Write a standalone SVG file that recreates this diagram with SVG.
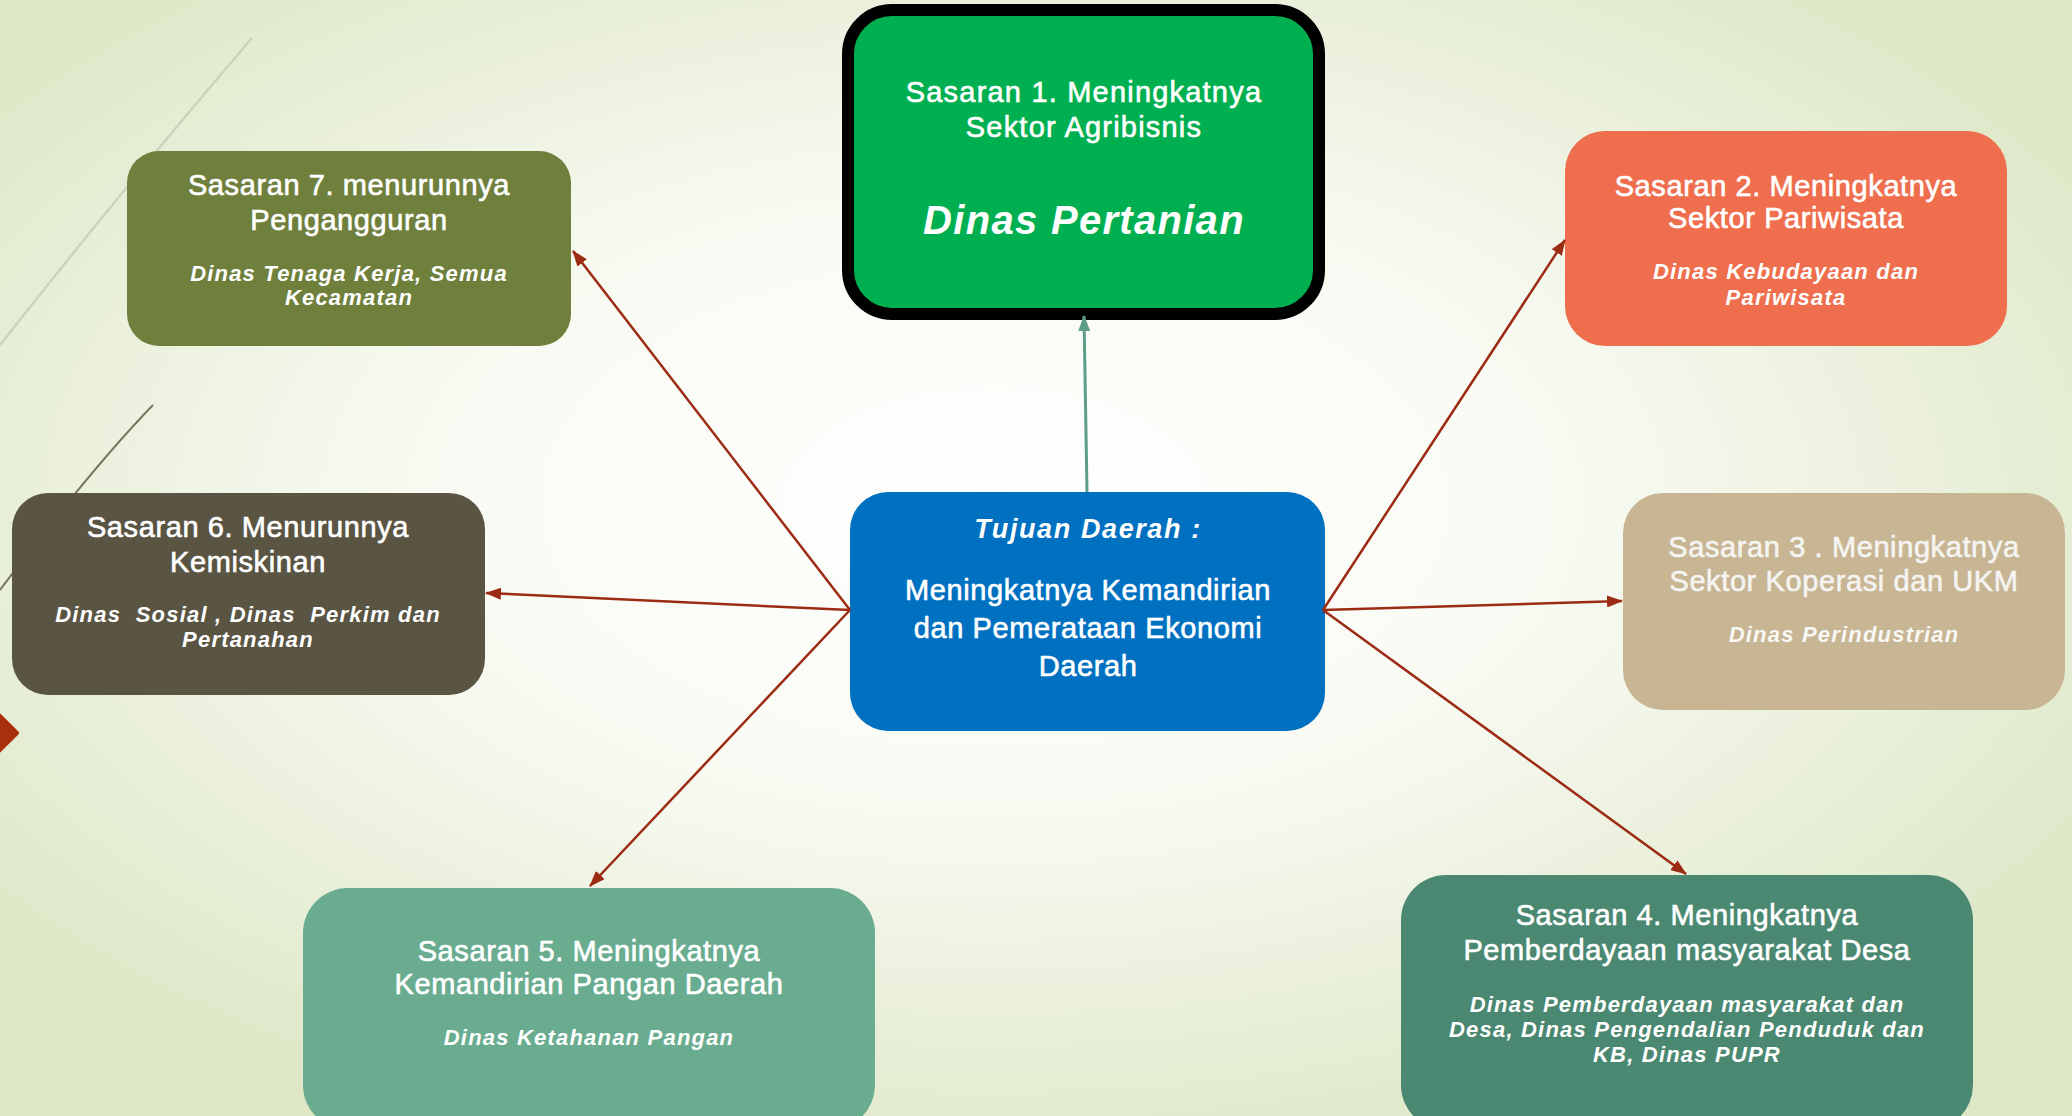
<svg xmlns="http://www.w3.org/2000/svg" width="2072" height="1116" viewBox="0 0 2072 1116">
<defs>
<radialGradient id="bg" cx="48%" cy="45%" r="62%">
<stop offset="0" stop-color="#FFFFFF"/>
<stop offset="0.45" stop-color="#F8FAF2"/>
<stop offset="1" stop-color="#DDE7C6"/>
</radialGradient>
<marker id="ar" markerUnits="userSpaceOnUse" viewBox="0 0 16 12" refX="15" refY="6" markerWidth="16" markerHeight="12" orient="auto">
<path d="M0,0 L16,6 L0,12 z" fill="#9C2B13"/>
</marker>
<marker id="ag" markerUnits="userSpaceOnUse" viewBox="0 0 16 12" refX="15" refY="6" markerWidth="16" markerHeight="12" orient="auto">
<path d="M0,0 L16,6 L0,12 z" fill="#5E9E88"/>
</marker>
<style>
.t{font-family:"Liberation Sans",Arial,sans-serif;font-size:29px;fill:#FFFFFF;stroke:#FFFFFF;stroke-width:0.6px;text-anchor:middle;letter-spacing:0.6px}
.s{font-family:"Liberation Sans",Arial,sans-serif;font-size:22px;font-weight:bold;font-style:italic;fill:#FFFFFF;text-anchor:middle;letter-spacing:1.2px}
.c{stroke:#9C2B13;stroke-width:2.5;fill:none;marker-end:url(#ar)}
</style>
</defs>
<rect x="0" y="0" width="2072" height="1116" fill="url(#bg)"/>
<g id="decor">
<path d="M252,38 Q130,180 0,345" stroke="#CBD3BC" stroke-width="2.5" fill="none"/>
<path d="M153,405 Q90,470 0,590" stroke="#78765E" stroke-width="2" fill="none"/>
<polygon points="17,733 -4,712 -25,733 -4,754" fill="#A8300F" stroke="#A8300F" stroke-width="4" stroke-linejoin="round"/>
</g>
<g id="node-sasaran1">
<rect x="848" y="10" width="471" height="304" rx="44" fill="#00B050" stroke="#000000" stroke-width="12"/>
<text class="t" x="1084" y="102" style="letter-spacing:1.2px">Sasaran 1. Meningkatnya</text>
<text class="t" x="1084" y="137" style="letter-spacing:1.2px">Sektor Agribisnis</text>
<text class="s" x="1084" y="234" style="font-size:40px;letter-spacing:1.3px">Dinas Pertanian</text>
</g>
<g id="node-tujuan">
<rect x="850" y="492" width="475" height="239" rx="38" fill="#0070C0"/>
<text class="s" x="1088" y="538" style="font-size:27px;letter-spacing:1.6px">Tujuan Daerah :</text>
<text class="t" x="1088" y="600" style="font-size:29px;letter-spacing:0.6px">Meningkatnya Kemandirian</text>
<text class="t" x="1088" y="638" style="font-size:29px;letter-spacing:0.6px">dan Pemerataan Ekonomi</text>
<text class="t" x="1088" y="676" style="font-size:29px;letter-spacing:0.6px">Daerah</text>
</g>
<g id="node-sasaran7">
<rect x="127" y="151" width="444" height="195" rx="32" fill="#6F7F3C"/>
<text class="t" x="349" y="195">Sasaran 7. menurunnya</text>
<text class="t" x="349" y="230">Pengangguran</text>
<text class="s" x="349" y="281">Dinas Tenaga Kerja, Semua</text>
<text class="s" x="349" y="305">Kecamatan</text>
</g>
<g id="node-sasaran2">
<rect x="1565" y="131" width="442" height="215" rx="40" fill="#EE6E4E"/>
<text class="t" x="1786" y="196">Sasaran 2. Meningkatnya</text>
<text class="t" x="1786" y="228">Sektor Pariwisata</text>
<text class="s" x="1786" y="279">Dinas Kebudayaan dan</text>
<text class="s" x="1786" y="305">Pariwisata</text>
</g>
<g id="node-sasaran6">
<rect x="12" y="493" width="473" height="202" rx="36" fill="#5A5443"/>
<text class="t" x="248" y="537">Sasaran 6. Menurunnya</text>
<text class="t" x="248" y="572">Kemiskinan</text>
<text class="s" x="248" y="622" xml:space="preserve">Dinas  Sosial , Dinas  Perkim dan</text>
<text class="s" x="248" y="647">Pertanahan</text>
</g>
<g id="node-sasaran3">
<rect x="1623" y="493" width="442" height="217" rx="40" fill="#C8B594"/>
<text class="t" x="1844" y="557" style="fill:#F4F4F0;stroke:#F4F4F0">Sasaran 3 . Meningkatnya</text>
<text class="t" x="1844" y="591" style="fill:#F4F4F0;stroke:#F4F4F0">Sektor Koperasi dan UKM</text>
<text class="s" x="1844" y="642" style="fill:#F8F8F4">Dinas Perindustrian</text>
</g>
<g id="node-sasaran5">
<rect x="303" y="888" width="572" height="242" rx="45" fill="#69AC90"/>
<text class="t" x="589" y="961">Sasaran 5. Meningkatnya</text>
<text class="t" x="589" y="994">Kemandirian Pangan Daerah</text>
<text class="s" x="589" y="1045">Dinas Ketahanan Pangan</text>
</g>
<g id="node-sasaran4">
<rect x="1401" y="875" width="572" height="255" rx="45" fill="#4A8871"/>
<text class="t" x="1687" y="925">Sasaran 4. Meningkatnya</text>
<text class="t" x="1687" y="960">Pemberdayaan masyarakat Desa</text>
<text class="s" x="1687" y="1012">Dinas Pemberdayaan masyarakat dan</text>
<text class="s" x="1687" y="1037">Desa, Dinas Pengendalian Penduduk dan</text>
<text class="s" x="1687" y="1062">KB, Dinas PUPR</text>
</g>
<g id="connectors">
<line x1="1087" y1="492" x2="1084" y2="316" stroke="#5E9E88" stroke-width="3" marker-end="url(#ag)"/>
<line class="c" x1="850" y1="610" x2="573" y2="251"/>
<line class="c" x1="850" y1="610" x2="486" y2="593"/>
<line class="c" x1="850" y1="610" x2="590" y2="886"/>
<line class="c" x1="1323" y1="610" x2="1565" y2="240"/>
<line class="c" x1="1323" y1="610" x2="1622" y2="601"/>
<line class="c" x1="1323" y1="610" x2="1686" y2="874"/>
</g>
</svg>
